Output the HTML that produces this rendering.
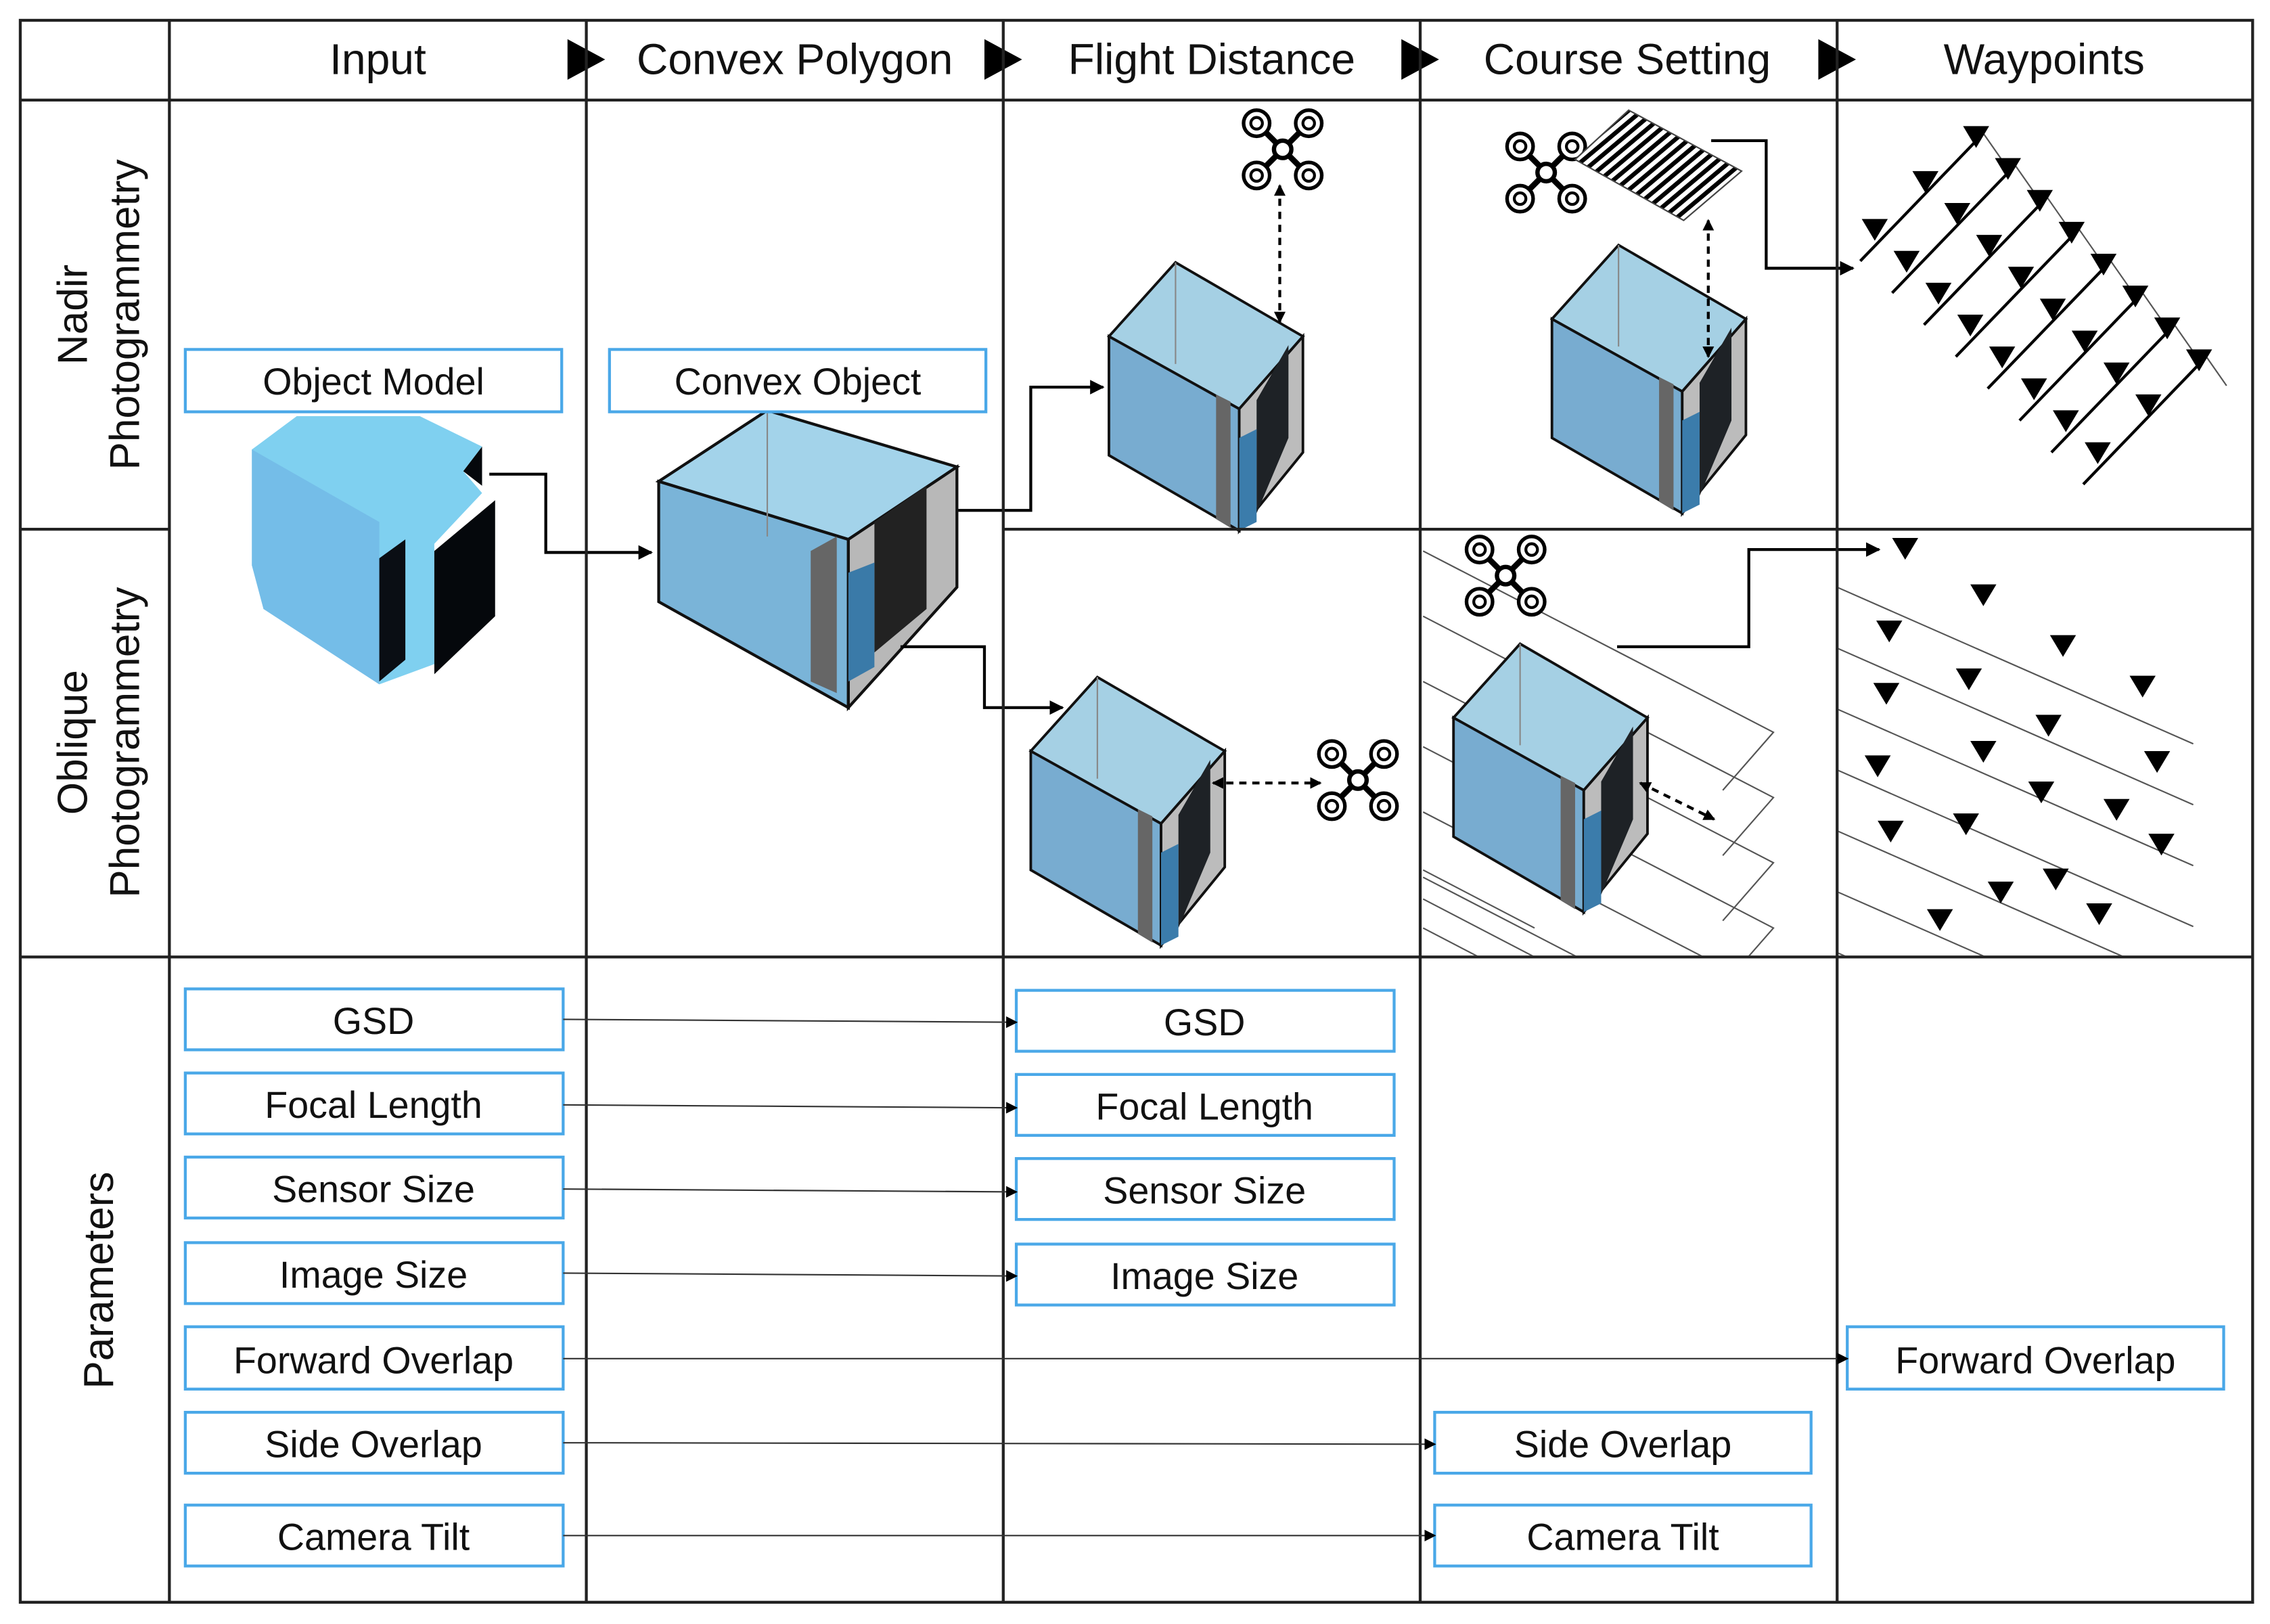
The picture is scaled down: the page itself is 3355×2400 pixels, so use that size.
<!DOCTYPE html>
<html><head><meta charset="utf-8"><style>
html,body{margin:0;padding:0;background:#fff}
svg{display:block}
text{font-family:"Liberation Sans","DejaVu Sans",sans-serif;fill:#111}
</style></head><body>
<svg width="3355" height="2400" viewBox="0 0 1568 1120" preserveAspectRatio="none" xmlns="http://www.w3.org/2000/svg">
<defs>
<marker id="ah" markerWidth="8" markerHeight="8" refX="7" refY="4" orient="auto" markerUnits="userSpaceOnUse"><path d="M0,0 L8,4 L0,8z" fill="#000"/></marker>
<marker id="ah2" markerWidth="10" markerHeight="10" refX="9" refY="5" orient="auto" markerUnits="userSpaceOnUse"><path d="M0,0 L10,5 L0,10z" fill="#000"/></marker>
<marker id="da" markerWidth="8" markerHeight="8" refX="7" refY="4" orient="auto-start-reverse" markerUnits="userSpaceOnUse"><path d="M0,0 L8,4 L0,8z" fill="#000"/></marker>
<pattern id="hatch" width="6" height="6" patternUnits="userSpaceOnUse" patternTransform="rotate(50)"><rect width="6" height="6" fill="#fff"/><rect width="3" height="6" fill="#000"/></pattern>
<clipPath id="c1"><rect x="982" y="366" width="286" height="293"/></clipPath>
<clipPath id="c2"><rect x="1270" y="366" width="285" height="293"/></clipPath>
</defs>

<!-- header -->
<g font-size="30" text-anchor="middle">
<text x="261" y="51">Input</text>
<text x="549" y="51">Convex Polygon</text>
<text x="837" y="51">Flight Distance</text>
<text x="1124" y="51">Course Setting</text>
<text x="1412" y="51">Waypoints</text>
</g>
<g fill="#000">
<path d="M392,27 L418,41 L392,55z"/><path d="M680,27 L706,41 L680,55z"/>
<path d="M968,27 L994,41 L968,55z"/><path d="M1256,27 L1282,41 L1256,55z"/>
</g>
<g font-size="29" text-anchor="middle">
<text transform="translate(60,217) rotate(-90)">Nadir</text>
<text transform="translate(96,217) rotate(-90)">Photogrammetry</text>
<text transform="translate(60,512) rotate(-90)">Oblique</text>
<text transform="translate(96,512) rotate(-90)">Photogrammetry</text>
<text transform="translate(78,883) rotate(-90)">Parameters</text>
</g>

<!-- Object model shape -->
<g>
<polygon points="174,310 205,287 290,287 333,308 320,325 333,340 300,375 300,458 262,472 262,455 182,420 182,395 174,390" fill="#7fd0f0"/>
<polygon points="174,310 262,360 262,472 182,420 174,390" fill="#74bde8"/>
<polygon points="262,385 280,372 280,455 262,470" fill="#0a0e14"/>
<polygon points="300,380 342,345 342,425 300,465" fill="#05080c"/>
<polygon points="320,325 333,308 333,335" fill="#05080c"/>
</g>
<rect x="128" y="241" width="260" height="43" fill="#fff" stroke="#4aa8e8" stroke-width="2"/>
<text x="258" y="272" font-size="26" text-anchor="middle">Object Model</text>
<polyline points="338,327 377,327 377,381 450,381" fill="none" stroke="#000" stroke-width="2" marker-end="url(#ah2)"/>

<!-- Convex cube -->
<g stroke="#111" stroke-width="2">
<polygon points="455,332 530,283 661,322 586,372" fill="#a3d3ea"/>
<polygon points="455,332 586,372 586,488 455,415" fill="#7ab4d8"/>
<polygon points="586,372 661,322 661,405 586,488" fill="#b8b8b8"/>
<polygon points="604,360 640,335 640,420 604,450" fill="#222" stroke="none"/>
<polygon points="586,395 604,388 604,460 586,470" fill="#3a7aa8" stroke="none"/>
<polygon points="560,380 578,370 578,478 560,470" fill="#666" stroke="none"/>
<line x1="530" y1="283" x2="530" y2="370" stroke="#888" stroke-width="1"/>
</g>
<rect x="421" y="241" width="260" height="43" fill="#fff" stroke="#4aa8e8" stroke-width="2"/>
<text x="551" y="272" font-size="26" text-anchor="middle">Convex Object</text>
<polyline points="662,352 712,352 712,267 762,267" fill="none" stroke="#000" stroke-width="2" marker-end="url(#ah2)"/>
<polyline points="622,446 680,446 680,488 734,488" fill="none" stroke="#000" stroke-width="2" marker-end="url(#ah2)"/>

<g id="oblines" stroke="#555" stroke-width="1" fill="none" clip-path="url(#c1)"></g>
<g id="cubes" stroke="#111" stroke-width="1.8"></g>
<g id="drones"></g>

<!-- dashed distance arrows -->
<g stroke="#000" stroke-width="2" stroke-dasharray="5,4" fill="none">
<line x1="884" y1="128" x2="884" y2="222" marker-end="url(#da)" marker-start="url(#da)"/>
<line x1="838" y1="540" x2="912" y2="540" marker-end="url(#da)" marker-start="url(#da)"/>
<line x1="1180" y1="152" x2="1180" y2="246" marker-end="url(#da)" marker-start="url(#da)"/>
<line x1="1133" y1="540" x2="1184" y2="565" marker-end="url(#da)" marker-start="url(#da)"/>
</g>
<!-- hatched plane -->
<polygon points="1088,110 1125,76 1203,118 1163,152" fill="url(#hatch)" stroke="#444" stroke-width="1"/>
<polyline points="1182,97 1220,97 1220,185 1280,185" fill="none" stroke="#000" stroke-width="2" marker-end="url(#ah2)"/>
<polyline points="1117,446 1208,446 1208,379 1298,379" fill="none" stroke="#000" stroke-width="2" marker-end="url(#ah2)"/>

<g id="wpl" clip-path="url(#c2)"></g>
<g id="wp"></g>

<!-- grid -->
<g stroke="#222" stroke-width="2" fill="none">
<rect x="14" y="14" width="1542" height="1091"/>
<line x1="14" y1="69" x2="1556" y2="69"/>
<line x1="14" y1="660" x2="1556" y2="660"/>
<line x1="14" y1="365" x2="117" y2="365"/>
<line x1="693" y1="365" x2="1556" y2="365"/>
<line x1="117" y1="14" x2="117" y2="1105"/>
<line x1="405" y1="14" x2="405" y2="1105"/>
<line x1="693" y1="14" x2="693" y2="1105"/>
<line x1="981" y1="14" x2="981" y2="1105"/>
<line x1="1269" y1="14" x2="1269" y2="1105"/>
</g>

<!-- parameters -->
<g fill="#fff" stroke="#4aa8e8" stroke-width="2">
<rect x="128" y="682" width="261" height="42"/><rect x="128" y="740" width="261" height="42"/>
<rect x="128" y="798" width="261" height="42"/><rect x="128" y="857" width="261" height="42"/>
<rect x="128" y="915" width="261" height="43"/><rect x="128" y="974" width="261" height="42"/>
<rect x="128" y="1038" width="261" height="42"/>
<rect x="702" y="683" width="261" height="42"/><rect x="702" y="741" width="261" height="42"/>
<rect x="702" y="799" width="261" height="42"/><rect x="702" y="858" width="261" height="42"/>
<rect x="1276" y="915" width="260" height="43"/>
<rect x="991" y="974" width="260" height="42"/><rect x="991" y="1038" width="260" height="42"/>
</g>
<g font-size="26" text-anchor="middle">
<text x="258" y="713">GSD</text><text x="258" y="771">Focal Length</text>
<text x="258" y="829">Sensor Size</text><text x="258" y="888">Image Size</text>
<text x="258" y="947">Forward Overlap</text><text x="258" y="1005">Side Overlap</text>
<text x="258" y="1069">Camera Tilt</text>
<text x="832" y="714">GSD</text><text x="832" y="772">Focal Length</text>
<text x="832" y="830">Sensor Size</text><text x="832" y="889">Image Size</text>
<text x="1406" y="947">Forward Overlap</text>
<text x="1121" y="1005">Side Overlap</text><text x="1121" y="1069">Camera Tilt</text>
</g>
<g stroke="#333" stroke-width="1" fill="none">
<line x1="389" y1="703" x2="702" y2="705" marker-end="url(#ah)"/>
<line x1="389" y1="762" x2="702" y2="764" marker-end="url(#ah)"/>
<line x1="389" y1="820" x2="702" y2="822" marker-end="url(#ah)"/>
<line x1="389" y1="878" x2="702" y2="880" marker-end="url(#ah)"/>
<line x1="389" y1="937" x2="1276" y2="937" marker-end="url(#ah)"/>
<line x1="389" y1="995" x2="991" y2="996" marker-end="url(#ah)"/>
<line x1="389" y1="1059" x2="991" y2="1059" marker-end="url(#ah)"/>
</g>

<script>
var NS="http://www.w3.org/2000/svg";
function el(p,t,a){var e=document.createElementNS(NS,t);for(var k in a)e.setAttribute(k,a[k]);p.appendChild(e);return e;}
var cg=document.getElementById('cubes');
function cube(x,y){
 var A=[x,y],B=[x+46,y-51],C=[x+134,y],D=[x+90,y+50],H=90;
 function p(a){return a.map(function(q){return q[0]+','+q[1]}).join(' ')}
 el(cg,'polygon',{points:p([A,B,C,D]),fill:'#a5d0e4'});
 el(cg,'polygon',{points:p([A,D,[D[0],D[1]+H-6],[A[0],A[1]+H-8]]),fill:'#78acd0'});
 el(cg,'polygon',{points:p([D,C,[C[0],C[1]+H-10],[D[0],D[1]+H-6]]),fill:'#bcbcbc'});
 el(cg,'polygon',{points:p([[D[0]+12,D[1]-6],[C[0]-10,C[1]+6],[C[0]-10,C[1]+70],[D[0]+12,D[1]+72]]),fill:'#1e2226',stroke:'none'});
 el(cg,'polygon',{points:p([[D[0],D[1]+20],[D[0]+12,D[1]+14],[D[0]+12,D[1]+78],[D[0],D[1]+84]]),fill:'#3b7cab',stroke:'none'});
 el(cg,'polygon',{points:p([[D[0]-16,D[1]-10],[D[0]-6,D[1]-5],[D[0]-6,D[1]+82],[D[0]-16,D[1]+76]]),fill:'#666',stroke:'none'});
 el(cg,'line',{x1:B[0],y1:B[1],x2:B[0],y2:B[1]+H-20,stroke:'#888','stroke-width':1});
}
cube(766,232);cube(712,518);cube(1072,220);cube(1004,495);
var dg=document.getElementById('drones');
function drone(cx,cy){
 el(dg,'line',{x1:cx-20,y1:cy-20,x2:cx+20,y2:cy+20,stroke:'#000','stroke-width':4});
 el(dg,'line',{x1:cx+20,y1:cy-20,x2:cx-20,y2:cy+20,stroke:'#000','stroke-width':4});
 [[-1,-1],[1,-1],[-1,1],[1,1]].forEach(function(s){
  el(dg,'circle',{cx:cx+s[0]*18,cy:cy+s[1]*18,r:9,fill:'#fff',stroke:'#000','stroke-width':2.5});
  el(dg,'circle',{cx:cx+s[0]*18,cy:cy+s[1]*18,r:4,fill:'none',stroke:'#000','stroke-width':2});
 });
 el(dg,'circle',{cx:cx,cy:cy,r:6,fill:'#fff',stroke:'#000','stroke-width':3});
}
drone(886,103);drone(1068,119);drone(1040,397);drone(938,538);
var og=document.getElementById('oblines');
for(var i=0;i<6;i++){
 var y0=380+i*45;
 el(og,'polyline',{points:'983,'+y0+' 1225,'+(y0+125)+' 1190,'+(y0+165)});
}
for(var i=0;i<4;i++){el(og,'line',{x1:983,y1:600+i*20,x2:1060,y2:640+i*20});}
var wg=document.getElementById('wp'), wl=document.getElementById('wpl');
function tri(x,y){el(wg,'polygon',{points:(x-9)+','+(y-7)+' '+(x+9)+','+(y-7)+' '+x+','+(y+8),fill:'#000'});}
for(var i=0;i<8;i++){
 var x1=1285+i*22,y1=180+i*22,x2=1370+i*22,y2=92+i*22;
 el(wg,'line',{x1:x1,y1:y1,x2:x2,y2:y2,stroke:'#000','stroke-width':2});
 el(wg,'line',{x1:x2,y1:y2,x2:x2+14,y2:y2+20,stroke:'#555','stroke-width':1});
 tri(x1+10,y1-22);tri(x1+45,y1-55);tri(x2-5,y2+2);
}
for(var i=0;i<7;i++){
 var y0=385+i*42;
 el(wl,'line',{x1:1269,y1:y0+20,x2:1515,y2:y0+128,stroke:'#555','stroke-width':1});
}
[[1316,378],[1370,410],[1425,445],[1480,473],[1305,435],[1360,468],[1415,500],[1490,525],[1303,478],[1370,518],[1410,546],[1462,558],[1297,528],[1358,568],[1420,606],[1493,582],[1306,573],[1382,615],[1450,630],[1340,634]].forEach(function(p){tri(p[0],p[1]);});
</script>
</svg>
</body></html>
